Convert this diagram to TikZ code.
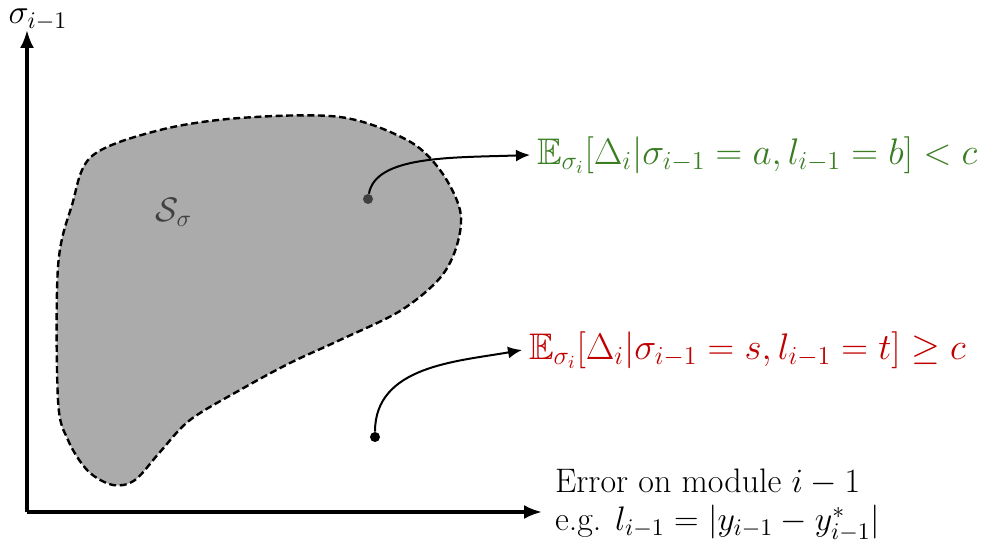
\RequirePackage{fix-cm}
\documentclass[tikz,border=0pt]{standalone}
\usepackage{amsmath,amssymb}
\usetikzlibrary{positioning,arrows.meta}
\definecolor{okgreen}{HTML}{3B7D23}
\definecolor{badred}{HTML}{C00000}
\definecolor{blobgray}{HTML}{ABABAB}
\definecolor{inkgray}{HTML}{404040}

\begin{document}
\begin{tikzpicture}[x=0.5pt,y=-0.5pt,
      every node/.style={font=\fontsize{17}{18}\selectfont},
      axis/.style={line width=1.6pt,-{Latex[length=9pt,width=7pt]}},
      link/.style={line width=1pt,-{Latex[length=7pt,width=6pt]}},
      cond/.style={anchor=west,font=\fontsize{18.5}{20}\selectfont},
      dot/.style={circle,fill,inner sep=0pt,minimum size=5pt}]
    \useasboundingbox (0,0) rectangle (1005,550);
    % feasible region
    \draw[fill=blobgray,line width=1.2pt,dash pattern=on 3.5pt off 1.8pt]
      plot[smooth cycle,tension=0.55] coordinates {(92,156) (160,130) (240,118) (340,117)
        (407,140) (440,170) (460,210) (457,245) (440,278) (400,311) (340,340) (290,363)
        (240,390) (190,420) (160,452) (135,480) (113,485) (88,471) (68,440) (58,400)
        (58,267) (72,205)};
    \node[text=inkgray] (reg) at (174,212) {$\mathcal{S}_\sigma$};
    % axes
    \coordinate (o) at (27,512);
    \coordinate (ytop) at (27,30);
    \coordinate (xend) at (542,512);
    \draw[axis] (o) -- (ytop);
    \draw[axis] (o) -- (xend);
    \node[inner sep=0pt] (ylab) at (38,20) {$\sigma_{i-1}$};
    \node[anchor=west,align=left] (xlab) at (548,505) {Error on module $i-1$\\[1pt]e.g. $l_{i-1}=|y_{i-1}-y^*_{i-1}|$};
    % sample points
    \node[dot,fill=inkgray] (pa) at (368,199) {};
    \node[dot] (pb) at (375,437) {};
    \node[cond,text=okgreen] (good) at (530,155)
      {$\mathbb{E}_{\sigma_i}[\Delta_i|\sigma_{i-1}=a,l_{i-1}=b]<c$};
    \node[cond,text=badred] (bad) at (522,350)
      {$\mathbb{E}_{\sigma_i}[\Delta_i|\sigma_{i-1}=s,l_{i-1}=t]\geq c$};
    \draw[link] (pa) to[out=80,in=182,out looseness=0.6,in looseness=1.2] (good.west);
    \draw[link] (pb) to[out=90,in=190] (bad.west);
  \end{tikzpicture}
\end{document}
